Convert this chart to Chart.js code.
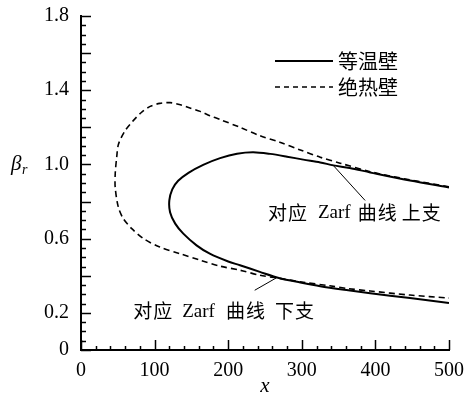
<!DOCTYPE html>
<html><head><meta charset="utf-8">
<script src="https://cdn.jsdelivr.net/npm/chart.js@4.4.0/dist/chart.umd.min.js"></script>
<style>html,body{margin:0;padding:0;background:#fff;}canvas{display:block}</style>
</head><body>
<canvas id="c" width="468" height="399"></canvas>
<script>
// ---- data ----
const xTickValues = [0, 100, 200, 300, 400, 500];
const yTickValues = [0, 0.2, 0.6, 1.0, 1.4, 1.8];
const seriesNames = ['等温壁', '绝热壁'];
// isothermal wall (solid), traced from upper-right end, round the nose, to lower-right end
const isoX = [500, 447, 393, 365, 343, 325, 302, 280, 257, 234, 212, 189, 166, 146, 132, 124, 120, 121, 128, 139, 157, 175, 200, 216, 243, 270, 298, 325, 363, 393, 447, 500];
const isoY = [0.876, 0.913, 0.957, 0.981, 0.995, 1.011, 1.026, 1.042, 1.057, 1.066, 1.058, 1.034, 0.998, 0.955, 0.912, 0.866, 0.806, 0.743, 0.681, 0.627, 0.564, 0.519, 0.477, 0.457, 0.421, 0.387, 0.364, 0.344, 0.322, 0.306, 0.280, 0.253];
// adiabatic wall (dashed)
const adiX = [500, 447, 393, 352, 325, 298, 270, 243, 216, 189, 175, 162, 148, 135, 121, 107, 94, 82, 71, 60, 51, 48.5, 46.5, 46.5, 50.7, 57.5, 69, 85, 107, 134.5, 162, 189, 216, 243, 270, 302, 338, 363, 393, 447, 500];
const adiY = [0.880, 0.917, 0.961, 1.007, 1.039, 1.078, 1.120, 1.155, 1.200, 1.242, 1.263, 1.286, 1.304, 1.322, 1.333, 1.329, 1.313, 1.280, 1.236, 1.182, 1.110, 1.039, 0.950, 0.875, 0.770, 0.708, 0.654, 0.600, 0.555, 0.519, 0.484, 0.452, 0.430, 0.403, 0.386, 0.365, 0.346, 0.331, 0.318, 0.296, 0.280];
const upperNote = ['对应', 'Zarf', '曲线', '上支'];
const lowerNote = ['对应', 'Zarf', '曲线', '下支'];

const SERIF = '"Liberation Serif", "Times New Roman", serif';
const CJK = '"Noto Sans CJK SC", sans-serif';

function drawNote(ctx, parts, x, y, gaps) {
  ctx.save();
  ctx.fillStyle = '#000';
  ctx.textBaseline = 'middle';
  ctx.textAlign = 'left';
  parts.forEach((p, i) => {
    if (i === 1) {
      ctx.font = '19px ' + SERIF;
      ctx.fillText(p, x, y + 1);
      x += ctx.measureText(p).width;
    } else {
      ctx.font = '19px ' + CJK;
      for (const ch of p) { ctx.fillText(ch, x, y); x += 20; }
      x -= 1;
    }
    x += (gaps[i] || 0);
  });
  ctx.restore();
}

const decor = {
  id: 'decor',
  afterDraw(chart) {
    const ctx = chart.ctx;
    const xs = chart.scales.x, ys = chart.scales.y;
    const L = chart.chartArea.left, B = chart.chartArea.bottom;
    ctx.save();
    ctx.strokeStyle = '#000';
    ctx.lineWidth = 1.5;
    // inward ticks, y
    for (let k = 0; k <= 36; k++) {
      const v = k * 0.05;
      const p = Math.round(ys.getPixelForValue(v)) + 0.5;
      const len = (k % 4 === 0) ? 10 : 5;
      ctx.beginPath(); ctx.moveTo(L, p); ctx.lineTo(L + len, p); ctx.stroke();
    }
    // inward ticks, x
    for (let k = 0; k <= 25; k++) {
      const v = k * 20;
      const p = Math.round(xs.getPixelForValue(v)) + 0.5;
      const len = (k % 5 === 0) ? 10 : 4;
      ctx.beginPath(); ctx.moveTo(p, B); ctx.lineTo(p, B - len); ctx.stroke();
    }
    // y title beta_r
    const ty = ys.getPixelForValue(1.0);
    ctx.fillStyle = '#000';
    ctx.textBaseline = 'alphabetic';
    ctx.textAlign = 'left';
    ctx.font = 'italic 21px ' + SERIF;
    ctx.fillText('β', 11, ty + 6);
    ctx.font = 'italic 14px ' + SERIF;
    ctx.fillText('r', 22, ty + 10);
    // legend
    ctx.lineWidth = 2;
    ctx.beginPath(); ctx.moveTo(275, 61); ctx.lineTo(333, 61); ctx.stroke();
    ctx.lineWidth = 1.5;
    ctx.setLineDash([5, 4]);
    ctx.beginPath(); ctx.moveTo(275, 87); ctx.lineTo(333, 87); ctx.stroke();
    ctx.setLineDash([]);
    ctx.font = '20px ' + CJK;
    ctx.textBaseline = 'middle';
    ctx.fillText(seriesNames[0], 338, 61);
    ctx.fillText(seriesNames[1], 338, 87);
    // leader lines
    ctx.lineWidth = 1;
    ctx.beginPath();
    ctx.moveTo(xs.getPixelForValue(342), ys.getPixelForValue(0.998));
    ctx.lineTo(xs.getPixelForValue(386), ys.getPixelForValue(0.806));
    ctx.stroke();
    ctx.beginPath();
    ctx.moveTo(xs.getPixelForValue(266), ys.getPixelForValue(0.390));
    ctx.lineTo(xs.getPixelForValue(236), ys.getPixelForValue(0.322));
    ctx.stroke();
    ctx.restore();
    drawNote(ctx, upperNote, xs.getPixelForValue(254), ys.getPixelForValue(0.742), [11, 7, 5]);
    drawNote(ctx, lowerNote, xs.getPixelForValue(71), ys.getPixelForValue(0.21), [10, 11, 10]);
  }
};

new Chart(document.getElementById('c').getContext('2d'), {
  type: 'scatter',
  data: {
    datasets: [
      { label: seriesNames[0], data: isoX.map((x, i) => ({ x, y: isoY[i] })), showLine: true,
        borderColor: '#000', borderWidth: 2, pointRadius: 0, tension: 0.3, fill: false },
      { label: seriesNames[1], data: adiX.map((x, i) => ({ x, y: adiY[i] })), showLine: true,
        borderColor: '#000', borderWidth: 1.6, borderDash: [6, 4], pointRadius: 0, tension: 0.3, fill: false }
    ]
  },
  options: {
    responsive: false, animation: false, devicePixelRatio: 1,
    layout: { padding: { left: 0, right: 19, top: 15, bottom: 0 } },
    plugins: { legend: { display: false }, tooltip: { enabled: false } },
    scales: {
      x: {
        type: 'linear', min: 0, max: 500,
        afterBuildTicks: s => { s.ticks = xTickValues.map(v => ({ value: v })); },
        grid: { display: false },
        border: { display: true, color: '#000', width: 2 },
        ticks: { color: '#000', font: { family: SERIF, size: 20 }, padding: 1, maxRotation: 0, autoSkip: false },
        title: { display: true, text: 'x', color: '#000', font: { family: SERIF, size: 21, style: 'italic' }, padding: { top: 0, bottom: 0 } },
        afterFit: s => { s.height = 49; }
      },
      y: {
        type: 'linear', min: 0, max: 1.8,
        afterBuildTicks: s => { s.ticks = yTickValues.map(v => ({ value: v })); },
        grid: { display: false },
        border: { display: true, color: '#000', width: 2 },
        ticks: { color: '#000', font: { family: SERIF, size: 20 }, padding: 4, autoSkip: false,
          callback: v => (v === 0 ? '0' : Number(v).toFixed(1)) },
        afterFit: s => { s.width = 81; }
      }
    }
  },
  plugins: [decor]
});
</script>
</body></html>
